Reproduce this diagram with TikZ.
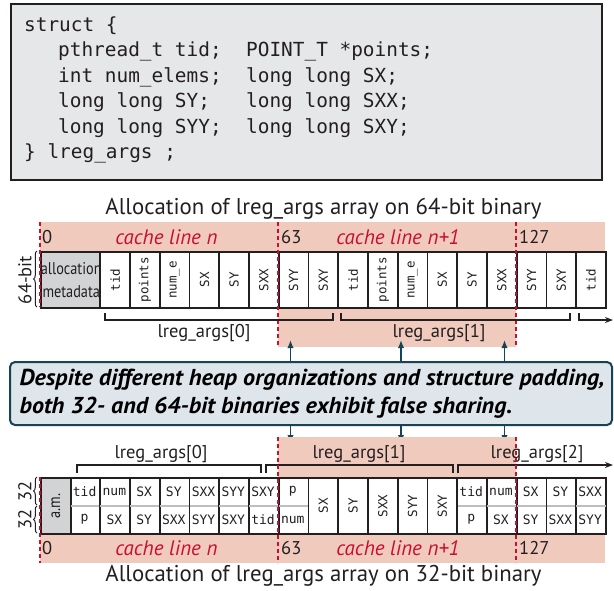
\documentclass[tikz,border=0pt]{standalone}
\usepackage{fontspec}
\setmainfont{PT Sans}
\setmonofont{DejaVu Sans Mono}
\newfontfamily\condsans[FakeStretch=0.84]{PT Sans}
\usetikzlibrary{arrows.meta,decorations.pathreplacing}

\definecolor{ink}{RGB}{35,31,32}
\definecolor{codebg}{RGB}{230,231,232}
\definecolor{metagrey}{RGB}{209,211,212}
\definecolor{linepink}{RGB}{241,202,190}
\definecolor{cachered}{RGB}{200,16,46}
\definecolor{calloutbg}{RGB}{222,230,236}
\definecolor{calloutedge}{RGB}{22,68,86}
\definecolor{divgrey}{RGB}{188,190,192}

\newcommand\fsz[1]{\fontsize{#1}{#1}\selectfont}
\newsavebox\calloutA
\newsavebox\calloutB
\newdimen\calloutw

\begin{document}
\sbox\calloutA{\bfseries\itshape\fsz{23}Despite different heap organizations and structure padding,}
\sbox\calloutB{\bfseries\itshape\fsz{23}both 32- and 64-bit binaries exhibit false sharing.}
\calloutw=\wd\calloutA
\begin{tikzpicture}[x=1pt,y=-1pt,
  memcell/.style={draw=ink,line width=1.8pt,fill=white,minimum width=29.74pt,
    minimum height=56pt,inner sep=0pt,anchor=north west,text=ink},
  celltxt/.style={inner sep=0pt,text=ink,font=\ttfamily\fsz{13}},
  codeline/.style={anchor=base west,inner sep=0pt,text=ink,font=\ttfamily\fsz{19.4}},
  lbl/.style={inner sep=0pt,text=ink,font=\fsz{18.5}},
  title/.style={inner sep=0pt,text=ink,font=\fsz{22.8}},
  cachelbl/.style={inner sep=0pt,text=cachered,font=\itshape\fsz{21}},
  cachedash/.style={draw=cachered,line width=1.6pt,dash pattern=on 4pt off 3pt},
  bracketline/.style={draw=ink,line width=1.8pt},
  callarrow/.style={draw=calloutedge,line width=1.8pt,-{Latex[length=8pt,width=6.5pt]}},
  sidebrace/.style={draw=ink,line width=1pt,decorate,decoration={brace,amplitude=3.5pt}},
]
\pgfmathsetmacro\cf{585/\calloutw}
\def\u{29.7368}
\useasboundingbox (0,0) rectangle (614,590);

% ---------- structure declaration ----------
\node[draw=ink,line width=2pt,fill=codebg,minimum width=591pt,minimum height=176pt,
  inner sep=0pt,anchor=north west] (code) at (10,3) {};
\node[codeline] (c1) at (24,31) {struct \{};
\node[codeline] (c2a) at (58,56.5) {pthread\_t tid;};
\node[codeline] (c2b) at (246,56.5) {POINT\_T *points;};
\node[codeline] (c3a) at (58,82) {int num\_elems;};
\node[codeline] (c3b) at (246,82) {long long SX;};
\node[codeline] (c4a) at (58,107.5) {long long SY;};
\node[codeline] (c4b) at (246,107.5) {long long SXX;};
\node[codeline] (c5a) at (58,133) {long long SYY;};
\node[codeline] (c5b) at (246,133) {long long SXY;};
\node[codeline] (c6) at (24,158.5) {\} lreg\_args ;};

% ---------- 64-bit layout ----------
\node[title] (title64) at (323.5,209) {Allocation of lreg\_args array on 64-bit binary};
\fill[linepink] (40,222) rectangle (605,251);
\fill[linepink] ({40+8*\u},222) rectangle ({40+16*\u},347);

\node[memcell,fill=metagrey,minimum width=59.47pt,align=center,
  font=\condsans\fontsize{17}{23}\selectfont] (meta64) at (40,251) {allocation\\metadata};
\foreach \lab [count=\k from 0] in {tid,points,num\_e,SX,SY,SXX,SYY,SXY,tid,points,num\_e,SX,SY,SXX,SYY,SXY,tid}
  \node[memcell] (w\k) at ({40+(2+\k)*\u},251) {\rotatebox{90}{\ttfamily\fsz{12.5}\lab}};

\draw[cachedash] (40,222) -- (40,307);
\draw[cachedash] ({40+8*\u},222) -- ({40+8*\u},347);
\draw[cachedash] ({40+16*\u},222) -- ({40+16*\u},347);

\node[lbl,anchor=west] (o0) at (42,237) {0};
\node[lbl,anchor=west] (o63) at (281,237) {63};
\node[lbl,anchor=west] (o127) at (519,237) {127};
\node[cachelbl] (cl64a) at (166.5,237) {cache line n};
\node[cachelbl] (cl64b) at (398,237) {cache line n+1};

\draw[sidebrace] (37,307) -- (37,251);
\node[lbl] (bits64) at (25,280) {\rotatebox{90}{64-bit}};

\draw[bracketline] (105,313) -- (105,320) -- (333,320) -- (333,313);
\draw[bracketline] (341,313) -- (341,320) -- (570,320) -- (570,313);
\draw[bracketline,-{Stealth[length=8pt,width=6pt]}] (579,313) -- (579,320) -- (613,320);
\node[lbl] (arr64a) at (204,333) {lreg\_args[0]};
\node[lbl] (arr64b) at (439,333) {lreg\_args[1]};

% ---------- callout ----------
\node[draw=calloutedge,line width=2pt,fill=calloutbg,rounded corners=5pt,
  minimum width=602pt,minimum height=63pt,inner sep=0pt,anchor=north west] (callout) at (9,361) {};
\node[anchor=base west,inner sep=0pt,text=ink] (msgA) at (19.5,385) {\scalebox{\cf}[1]{\usebox\calloutA}};
\node[anchor=base west,inner sep=0pt,text=ink] (msgB) at (19.5,413) {\scalebox{\cf}[1]{\usebox\calloutB}};

\coordinate (upA) at (290.5,340);
\coordinate (upB) at (401,340);
\coordinate (upC) at (504.5,340);
\coordinate (dnA) at (290.5,443);
\coordinate (dnB) at (401,443);
\coordinate (dnC) at (504.5,443);
\foreach \p in {A,B,C} {
  \draw[callarrow] (callout.north -| up\p) -- (up\p);
  \draw[callarrow] (callout.south -| dn\p) -- (dn\p);
}

% ---------- 32-bit layout ----------
\fill[linepink] ({40+8*\u},437) rectangle ({40+16*\u},533);
\fill[linepink] (40,533) rectangle (605,563);

\node[lbl] (arr32a) at (161,454) {lreg\_args[0]};
\node[lbl] (arr32b) at (359,454) {lreg\_args[1]};
\node[lbl] (arr32c) at (537,454) {lreg\_args[2]};
\draw[bracketline] (77,473) -- (77,465) -- (261,465) -- (261,473);
\draw[bracketline] (266,473) -- (266,465) -- (453,465) -- (453,473);
\draw[bracketline,-{Stealth[length=8pt,width=6pt]}] (458,473) -- (458,465) -- (613,465);

\node[memcell,fill=metagrey] (meta32) at (40,477) {\rotatebox{90}{\condsans\fsz{17}a.m.}};
\foreach \k/\t/\b in {1/tid/p,2/num/SX,3/SX/SY,4/SY/SXX,5/SXX/SYY,6/SYY/SXY,7/SXY/tid,8/p/num,
    14/tid/p,15/num/SX,16/SX/SY,17/SY/SXX,18/SXX/SYY} {
  \node[memcell] (n\k) at ({40+\k*\u},477) {};
  \draw[divgrey,line width=1.2pt] ([xshift=1pt]n\k.west) -- ([xshift=-1pt]n\k.east);
  \node[celltxt] (top\k) at ({40+(\k+0.5)*\u},491.5) {\t};
  \node[celltxt] (bot\k) at ({40+(\k+0.5)*\u},519.5) {\b};
}
\foreach \k/\t in {9/SX,10/SY,11/SXX,12/SYY,13/SXY}
  \node[memcell] (n\k) at ({40+\k*\u},477) {\rotatebox{90}{\ttfamily\fsz{12.5}\t}};

\draw[cachedash] (40,477) -- (40,563);
\draw[cachedash] ({40+8*\u},437) -- ({40+8*\u},563);
\draw[cachedash] ({40+16*\u},437) -- ({40+16*\u},563);

\draw[sidebrace] (37,505) -- (37,477);
\draw[sidebrace] (37,533) -- (37,506);
\node[lbl] (bits32a) at (25,491) {\rotatebox{90}{32}};
\node[lbl] (bits32b) at (25,519.5) {\rotatebox{90}{32}};

\node[lbl,anchor=west] (p0) at (42,548) {0};
\node[lbl,anchor=west] (p63) at (281,548) {63};
\node[lbl,anchor=west] (p127) at (519,548) {127};
\node[cachelbl] (cl32a) at (166.5,548) {cache line n};
\node[cachelbl] (cl32b) at (398,548) {cache line n+1};

\node[title] (title32) at (323.5,576) {Allocation of lreg\_args array on 32-bit binary};
\end{tikzpicture}
\end{document}
